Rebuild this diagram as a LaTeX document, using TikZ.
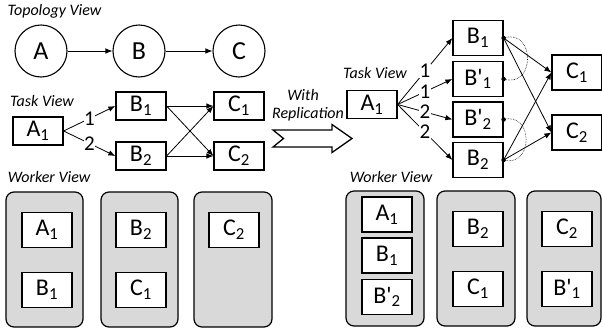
\documentclass[tikz,border=0pt]{standalone}
\usepackage{fontspec}
\setmainfont{Carlito}[Ligatures=TeXOff]
\usetikzlibrary{arrows.meta}
\definecolor{wgray}{HTML}{D9D9D9}
\begin{document}
\begin{tikzpicture}[x=1pt,y=-1pt,
  topo/.style={circle, draw, line width=1.1pt, minimum size=52pt, inner sep=0pt, font=\fontsize{26}{26}\selectfont},
  tbox/.style={draw, line width=1.2pt, minimum width=50pt, minimum height=28pt, inner sep=0pt, fill=white, font=\fontsize{24}{24}\selectfont},
  rbox/.style={tbox, minimum height=35pt},
  worker/.style={draw, line width=1.2pt, fill=wgray, rounded corners=8pt, minimum height=135pt, inner sep=0pt},
  view/.style={font=\fontsize{16}{16}\selectfont\itshape, inner sep=0pt},
  conn/.style={-{Latex[length=7pt,width=5.5pt]}, line width=0.8pt},
  elab/.style={fill=white, inner sep=0.3pt, text height=13pt, text depth=0pt, font=\fontsize{21}{21}\selectfont},
  dotn/.style={circle, fill=black, inner sep=0pt, minimum size=4.5pt},
  loopc/.style={densely dotted, line width=0.6pt}
]
\useasboundingbox (0,0) rectangle (602,335);

% ---------- Topology view ----------
\node[view] (ltopo) at (54.5,11) {Topology View};
\node[topo] (A) at (41,51) {A};
\node[topo] (B) at (139,51) {B};
\node[topo] (C) at (239,51) {C};
\draw[conn] (A) -- (B);
\draw[conn] (B) -- (C);

% ---------- Task view (left) ----------
\node[view] (ltask) at (42,101) {Task View};
\node[tbox] (la1) at (38,131) {A\textsubscript{1}};
\node[tbox] (lb1) at (141,106) {B\textsubscript{1}};
\node[tbox] (lb2) at (141,156) {B\textsubscript{2}};
\node[tbox] (lc1) at (239,106) {C\textsubscript{1}};
\node[tbox] (lc2) at (239,156) {C\textsubscript{2}};
\draw[conn] (la1.east) -- node[elab] {1} (lb1.west);
\draw[conn] (la1.east) -- node[elab] {2} (lb2.west);
\draw[conn] (lb1.east) -- (lc1.west);
\draw[conn] (lb1.east) -- (lc2.west);
\draw[conn] (lb2.east) -- (lc1.west);
\draw[conn] (lb2.east) -- (lc2.west);

% ---------- With Replication ----------
\node[view] (lwith) at (303,95) {With};
\node[view] (lrepl) at (308,114) {Replication};
\draw[line width=1.3pt, fill=white, line join=miter]
  (273,130) -- (332,130) -- (332,124.5) -- (352,138.5) -- (332,152.5) -- (332,147) -- (273,147) -- (283.5,138.5) -- cycle;

% ---------- Task view (right) ----------
\node[view] (rtask) at (375,73) {Task View};
\node[tbox] (ra1) at (372,104.5) {A\textsubscript{1}};
\node[rbox] (rb1) at (478,38) {B\textsubscript{1}};
\node[rbox] (rb1p) at (478,79) {B'\textsubscript{1}};
\node[rbox] (rb2p) at (478,119.5) {B'\textsubscript{2}};
\node[rbox] (rb2) at (478,160) {B\textsubscript{2}};
\node[rbox] (rc1) at (577,72.5) {C\textsubscript{1}};
\node[rbox] (rc2) at (577,132.5) {C\textsubscript{2}};
\draw[conn] (ra1.east) -- node[elab] {1} (rb1.west);
\draw[conn] (ra1.east) -- node[elab] {1} (rb1p.west);
\draw[conn] (ra1.east) -- node[elab] {2} (rb2p.west);
\draw[conn] (ra1.east) -- node[elab] {2} (rb2.west);
\node[dotn] (d1) at (rb1.east) {};
\node[dotn] (d1p) at (rb1p.east) {};
\node[dotn] (d2p) at (rb2p.east) {};
\node[dotn] (d2) at (rb2.east) {};
\draw[conn] (d1.center) -- (rc1.west);
\draw[conn] (d1.center) -- (rc2.west);
\draw[conn] (d2.center) -- (rc1.west);
\draw[conn] (d2.center) -- (rc2.west);
\draw[loopc] (d1.center) .. controls +(32,-10) and +(32,10) .. (d1p.center);
\draw[loopc] (d2p.center) .. controls +(30,-8) and +(30,8) .. (d2.center);

% ---------- Worker view (left) ----------
\node[view] (lwork) at (49,177) {Worker View};
\node[worker, minimum width=77pt] (w1) at (44.5,259.5) {};
\node[worker, minimum width=77pt] (w2) at (139.5,259.5) {};
\node[worker, minimum width=78pt] (w3) at (233,259.5) {};
\node[rbox] (wa1) at (47,230) {A\textsubscript{1}};
\node[rbox] (wb1) at (47,290) {B\textsubscript{1}};
\node[rbox] (wb2) at (141,230) {B\textsubscript{2}};
\node[rbox] (wc1) at (141,290) {C\textsubscript{1}};
\node[rbox] (wc2) at (234,230) {C\textsubscript{2}};

% ---------- Worker view (right) ----------
\node[view] (rwork) at (391,177) {Worker View};
\node[worker, minimum width=78pt] (w4) at (385,258.5) {};
\node[worker, minimum width=78pt] (w5) at (476,258.5) {};
\node[worker, minimum width=74pt] (w6) at (564,258.5) {};
\node[rbox] (xa1) at (387,214.5) {A\textsubscript{1}};
\node[rbox] (xb1) at (387,255.5) {B\textsubscript{1}};
\node[rbox] (xb2p) at (387,297) {B'\textsubscript{2}};
\node[rbox] (xb2) at (478,229) {B\textsubscript{2}};
\node[rbox] (xc1) at (478,289) {C\textsubscript{1}};
\node[rbox] (xc2) at (567,229) {C\textsubscript{2}};
\node[rbox] (xb1p) at (567,289) {B'\textsubscript{1}};
\end{tikzpicture}
\end{document}
